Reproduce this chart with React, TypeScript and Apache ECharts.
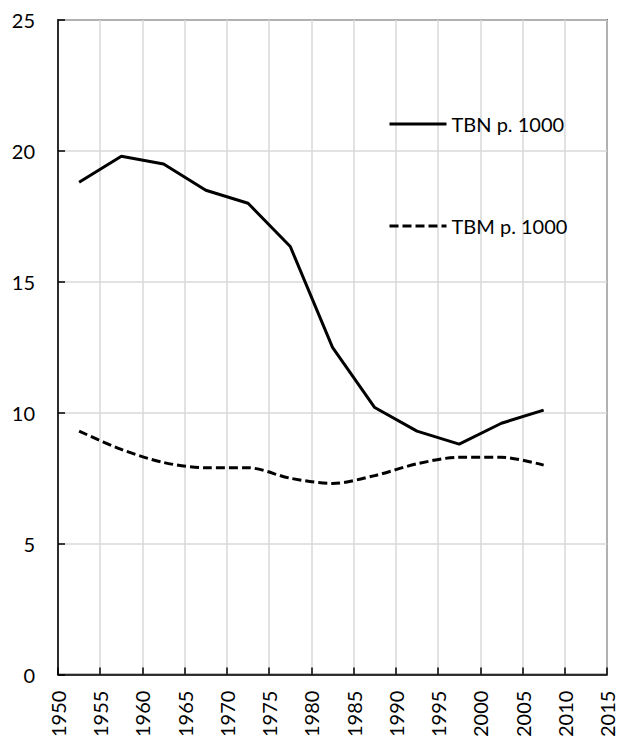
import React, { useEffect, useRef } from "react";
import * as echarts from "echarts";

const years = [1952.5, 1957.5, 1962.5, 1967.5, 1972.5, 1977.5, 1982.5, 1987.5, 1992.5, 1997.5, 2002.5, 2007.5];
const tbn = [18.8, 19.8, 19.5, 18.5, 18.0, 16.35, 12.5, 10.2, 9.3, 8.8, 9.6, 10.1];
const tbm = [9.3, 8.6, 8.1, 7.9, 7.9, 7.5, 7.3, 7.6, 8.05, 8.3, 8.3, 8.0];
const seriesNames = ["TBN p. 1000", "TBM p. 1000"];

const FONT = "Lato";
const FS = 20;

export default function App() {
  const ref = useRef<HTMLDivElement>(null);
  useEffect(() => {
    if (!ref.current) return;
    const chart = echarts.init(ref.current, undefined, { renderer: "svg" });
    const legendBase = {
      left: 388, itemWidth: 57, itemHeight: 14, itemGap: 6, padding: 0,
      itemStyle: { opacity: 0 },
      lineStyle: { width: 3 },
      textStyle: { fontSize: FS, color: "#000", fontFamily: FONT },
    };
    chart.setOption({
      animation: false,
      textStyle: { fontFamily: FONT },
      grid: {
        left: 58, top: 20, right: 11, bottom: 64,
        show: true, borderColor: "#000", borderWidth: 1.5, backgroundColor: "#fff",
      },
      legend: [
        { ...legendBase, data: [seriesNames[0]], top: 114 },
        { ...legendBase, data: [seriesNames[1]], top: 216 },
      ],
      xAxis: {
        type: "value", min: 1950, max: 2015, interval: 5,
        axisLine: { show: true, lineStyle: { color: "#000", width: 1.5 } },
        axisTick: { show: true, inside: true, length: 7, lineStyle: { color: "#000", width: 1.5 } },
        axisLabel: { rotate: 90, fontSize: FS, color: "#000", margin: 16, fontFamily: FONT, formatter: (v: number) => String(v) },
        splitLine: { show: true, lineStyle: { color: "#d9d9d9", width: 1.5 } },
      },
      yAxis: {
        type: "value", min: 0, max: 25, interval: 5,
        axisLine: { show: true, lineStyle: { color: "#000", width: 1.5 } },
        axisTick: { show: true, inside: true, length: 7, lineStyle: { color: "#000", width: 1.5 } },
        axisLabel: { fontSize: FS, color: "#000", margin: 23, fontFamily: FONT },
        splitLine: { show: true, lineStyle: { color: "#d9d9d9", width: 1.5 } },
      },
      series: [
        {
          name: seriesNames[0], type: "line", symbol: "none",
          data: years.map((y, i) => [y, tbn[i]]),
          lineStyle: { color: "#000", width: 3, type: "solid" },
          itemStyle: { color: "#000" },
        },
        {
          name: seriesNames[1], type: "line", symbol: "none", smooth: 0.3,
          data: years.map((y, i) => [y, tbm[i]]),
          lineStyle: { color: "#000", width: 3, type: [9, 4] },
          itemStyle: { color: "#000" },
        },
      ],
    });
    return () => chart.dispose();
  }, []);
  return <div ref={ref} style={{ width: 618, height: 740, position: "absolute", left: 0, top: 0 }} />;
}
